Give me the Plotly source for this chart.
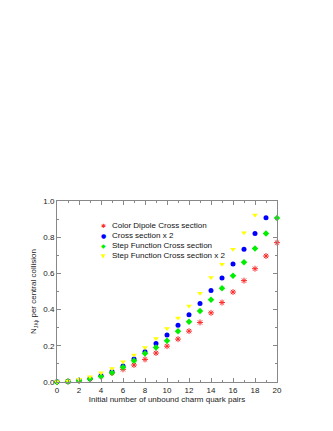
import plotly.graph_objects as go

# number of initial unbound charm quark pairs
pairs = list(range(0, 21))

# N_J/psi per central collision
color_dipole = [0.0, 0.002, 0.006, 0.016, 0.032, 0.05, 0.07, 0.094, 0.125, 0.16,
                0.198, 0.237, 0.281, 0.329, 0.382, 0.439, 0.497, 0.56, 0.626,
                0.696, 0.77]
cross_x2 = [0.001, 0.004, 0.009, 0.02, 0.034, 0.057, 0.088, 0.127, 0.167, 0.213,
            0.26, 0.313, 0.372, 0.434, 0.505, 0.575, 0.652, 0.733, 0.821, 0.908]
step_func = [0.0, 0.003, 0.008, 0.017, 0.03, 0.051, 0.081, 0.118, 0.158, 0.191,
             0.228, 0.28, 0.333, 0.392, 0.455, 0.518, 0.587, 0.662, 0.737, 0.82,
             0.906]
step_func_x2 = [0.002, 0.006, 0.015, 0.029, 0.051, 0.075, 0.112, 0.149, 0.191,
                0.241, 0.296, 0.354, 0.42, 0.491, 0.578, 0.65, 0.733, 0.825, 0.923]

series = [
    ("Color Dipole Cross section", color_dipole, "#ff2a2a", "asterisk-open", "✱"),
    ("Cross section x 2", cross_x2, "#0000ff", "circle", "●"),
    ("Step Function Cross section", step_func, "#00ee00", "diamond", "◆"),
    ("Step Function Cross section x 2", step_func_x2, "#ffff00", "triangle-down", "▼"),
]

FONT = "Liberation Sans"

fig = go.Figure()
for name, vals, col, sym, glyph in series:
    fig.add_trace(go.Scatter(
        x=pairs[:len(vals)], y=vals, mode="markers", name=name,
        cliponaxis=False, showlegend=False,
        marker=dict(symbol=sym, color=col, size=5,
                    line=dict(color=col, width=1.0 if sym == "asterisk-open" else 0)),
    ))

# hand-made legend (plotly legend rows are too tall for this size)
for i, (name, vals, col, sym, glyph) in enumerate(series):
    row_y = 0.862 - i * 0.054
    fig.add_annotation(
        xref="paper", yref="paper", x=0.2136, y=row_y,
        xanchor="center", yanchor="middle", showarrow=False,
        text=glyph, font=dict(family="DejaVu Sans", size=6, color=col),
    )
    fig.add_annotation(
        xref="paper", yref="paper", x=0.241, y=row_y,
        xanchor="left", yanchor="middle", showarrow=False,
        text=name, font=dict(family=FONT, size=8, color="#111"),
    )

axis_style = dict(
    showgrid=False, zeroline=False, showline=True, linecolor="#888", linewidth=1,
    mirror="allticks", ticks="inside", ticklen=4, tickcolor="#888",
    tickfont=dict(family=FONT, size=8, color="#222"),
)

fig.update_xaxes(range=[0, 20], dtick=2, tick0=0,
                 minor=dict(dtick=1, ticks="inside", ticklen=2, tickcolor="#888"),
                 title=dict(text="Initial number of unbound charm quark pairs",
                            font=dict(family=FONT, size=8, color="#222"),
                            standoff=2),
                 **axis_style)
fig.update_yaxes(range=[0, 1], dtick=0.2, tick0=0, tickformat=".1f",
                 minor=dict(dtick=0.1, ticks="inside", ticklen=2, tickcolor="#888"),
                 title=dict(text="N<sub>J/ψ</sub> per central collision",
                            font=dict(family=FONT, size=8, color="#222"),
                            standoff=5),
                 **axis_style)

fig.update_layout(
    width=333, height=431,
    margin=dict(l=49, r=64, t=193, b=57),
    paper_bgcolor="white", plot_bgcolor="white",
)

fig.write_html("out.html")
